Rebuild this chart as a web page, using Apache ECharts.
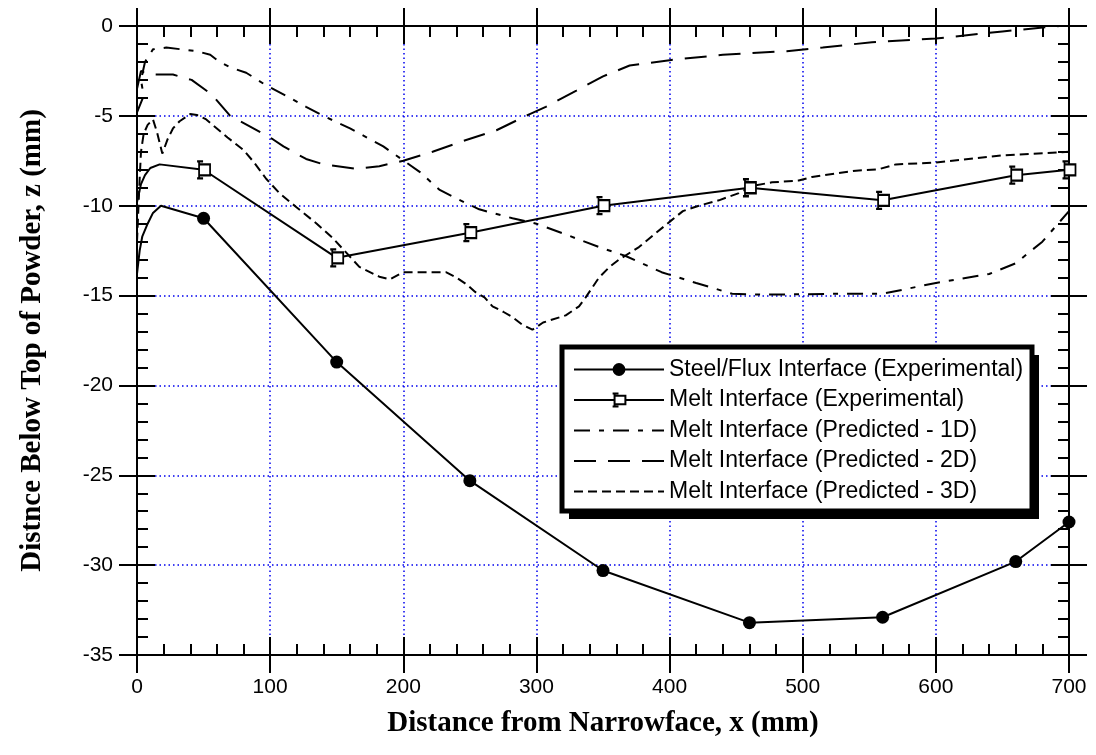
<!DOCTYPE html>
<html>
<head>
<meta charset="utf-8">
<script src="https://cdn.jsdelivr.net/npm/echarts@6/dist/echarts.min.js"></script>
<style>
  html, body { margin: 0; background: #fff; }
  #chart { width: 1096px; height: 755px; }
</style>
</head>
<body>
<div id="chart"></div>
<script>
// x = distance from narrowface (mm), z = depth below top of powder (mm)
const steelStart = [[0, -13.8], [2, -12.5], [4, -11.7], [8, -11], [12, -10.4], [18, -10]];
const steelPoints = [[50, -10.7], [150, -18.7], [250, -25.3], [350, -30.3], [460, -33.2], [560, -32.9], [660, -29.8], [700, -27.6]];

const meltStart = [[0, -9.8], [3, -8.8], [6, -8.3], [10, -7.9], [17, -7.7]];
const meltPoints = [[50, -8.0], [150, -12.9], [250, -11.5], [350, -10.0], [460, -9.0], [560, -9.7], [660, -8.3], [700, -8.0]];

const pred1D = [[0, -4.8], [5, -3.9], [3, -3], [6, -2.0], [12, -1.3], [22, -1.2], [45, -1.4], [55, -1.6], [62, -2.0],
  [70, -2.3], [82, -2.6], [97, -3.3], [115, -4.0], [127, -4.5], [140, -5.0], [160, -5.7], [185, -6.7], [212, -8.1],
  [227, -9.1], [240, -9.6], [257, -10.2], [282, -10.7], [300, -11.0], [322, -11.6], [347, -12.3], [367, -12.8],
  [394, -13.7], [420, -14.3], [447, -14.9], [470, -14.95], [527, -14.9], [560, -14.9], [600, -14.3], [640, -13.8],
  [660, -13.2], [680, -12.0], [700, -10.3]];

const pred2D = [[0, -3.5], [3, -2.5], [8, -2.7], [13, -2.7], [27, -2.7], [41, -3.0], [56, -3.8], [70, -5.0], [85, -5.6],
  [102, -6.3], [110, -6.7], [127, -7.4], [140, -7.7], [165, -7.95], [182, -7.8], [200, -7.5], [222, -7.0],
  [245, -6.4], [270, -5.8], [295, -4.9], [307, -4.5], [330, -3.6], [350, -2.8], [370, -2.2], [400, -1.9],
  [440, -1.6], [488, -1.4], [515, -1.2], [552, -0.9], [600, -0.7], [650, -0.3], [700, 0.05]];

const pred3D = [[0, -12], [2, -8.5], [3, -7], [5, -6.0], [8, -5.5], [12, -5.2], [15, -5.9], [19, -7.1], [23, -6.3],
  [27, -5.7], [32, -5.3], [40, -4.9], [45, -4.95], [52, -5.2], [60, -5.7], [68, -6.2], [80, -6.9], [88, -7.6],
  [97, -8.5], [107, -9.3], [120, -10.1], [135, -11.0], [147, -11.8], [167, -13.4], [182, -13.95], [190, -14.1],
  [200, -13.7], [232, -13.7], [240, -14.0], [248, -14.4], [254, -14.8], [261, -15.1], [267, -15.6], [275, -15.9],
  [282, -16.2], [289, -16.6], [297, -16.9], [305, -16.5], [322, -16.1], [332, -15.6], [337, -15.1], [347, -14.0],
  [355, -13.4], [362, -13.0], [377, -12.3], [390, -11.5], [400, -10.9], [410, -10.3], [422, -10.0], [437, -9.7],
  [452, -9.3], [462, -8.9], [477, -8.7], [497, -8.6], [507, -8.4], [525, -8.2], [540, -8.05], [557, -7.97],
  [570, -7.7], [600, -7.6], [650, -7.2], [700, -7.0]];

const seriesNames = [
  "Steel/Flux Interface (Experimental)",
  "Melt Interface (Experimental)",
  "Melt Interface (Predicted - 1D)",
  "Melt Interface (Predicted - 2D)",
  "Melt Interface (Predicted - 3D)",
];

// square marker with small error bar on its left side
const errSquare = "path://M0,0 L6,0 M2,0 L2,17 M0,17 L6,17 M2,3 L13,3 L13,14 L2,14 Z";

const black = "#000";
const sans = "Liberation Sans";
const serif = "Liberation Serif";

function noMarker(list) {
  return list.map(function (p) {
    return { value: p, symbol: "none" };
  });
}

function frameAxis(pos, inside, range) {
  return {
    type: "value",
    position: pos,
    min: range[0],
    max: range[1],
    interval: range[2],
    axisLine: { onZero: false, lineStyle: { color: black, width: 2 } },
    axisTick: { inside: inside, length: 18, lineStyle: { color: black, width: 2 } },
    minorTick: { show: inside, splitNumber: 5, length: 11, lineStyle: { color: black, width: 2 } },
    axisLabel: { show: false },
    splitLine: { show: false },
  };
}

const xRange = [0, 700, 100];
const yRange = [-35, 0, 5];
const gridDots = { color: "#0000ee", width: 1.5, type: [1.5, 3] };

const xMain = frameAxis("bottom", false, xRange);
xMain.axisLabel = { show: true, fontSize: 21, fontFamily: sans, color: black, margin: 22 };
xMain.splitLine = { show: true, lineStyle: gridDots };
xMain.name = "Distance from Narrowface, x (mm)";
xMain.nameLocation = "middle";
xMain.nameGap = 54;
xMain.nameTextStyle = { fontSize: 29, fontFamily: serif, fontWeight: "bold", color: black };

const yMain = frameAxis("left", false, yRange);
yMain.axisLabel = { show: true, fontSize: 21, fontFamily: sans, color: black, margin: 24 };
yMain.splitLine = { show: true, lineStyle: gridDots };
yMain.name = "Distnce Below Top of Powder, z (mm)";
yMain.nameLocation = "middle";
yMain.nameGap = 90;
yMain.nameTextStyle = { fontSize: 29, fontFamily: serif, fontWeight: "bold", color: black };

// legend frame: white box with thick border and a hard drop shadow
const boxLeft = 562, boxTop = 347, boxWidth = 470, boxHeight = 164;

const chart = echarts.init(document.getElementById("chart"));

const option = {
  animation: false,
  backgroundColor: "#fff",
  grid: { left: 137, right: 27, top: 26, bottom: 100, outerBoundsMode: "none" },
  xAxis: [xMain, frameAxis("bottom", true, xRange), frameAxis("top", false, xRange), frameAxis("top", true, xRange)],
  yAxis: [yMain, frameAxis("left", true, yRange), frameAxis("right", false, yRange), frameAxis("right", true, yRange)],
  graphic: [
    {
      type: "rect",
      z: 100,
      shape: { x: boxLeft + 7, y: boxTop + 8, width: boxWidth, height: boxHeight },
      style: { fill: black },
    },
    {
      type: "rect",
      z: 101,
      shape: { x: boxLeft, y: boxTop, width: boxWidth, height: boxHeight },
      style: { fill: "#fff", stroke: black, lineWidth: 5 },
    },
  ],
  legend: {
    z: 110,
    orient: "vertical",
    left: 573,
    top: 358,
    padding: 0,
    itemWidth: 90,
    itemHeight: 16,
    itemGap: 7.5,
    textStyle: { fontSize: 23, lineHeight: 23, fontFamily: sans, color: black },
    data: [
      { name: seriesNames[0] },
      { name: seriesNames[1] },
      { name: seriesNames[2], itemStyle: { opacity: 0 } },
      { name: seriesNames[3], itemStyle: { opacity: 0 } },
      { name: seriesNames[4], itemStyle: { opacity: 0 } },
    ],
  },
  series: [
    {
      name: seriesNames[0],
      type: "line",
      data: noMarker(steelStart).concat(steelPoints),
      symbol: "circle",
      symbolSize: 13,
      itemStyle: { color: black },
      lineStyle: { color: black, width: 2 },
      z: 5,
    },
    {
      name: seriesNames[1],
      type: "line",
      data: noMarker(meltStart).concat(meltPoints),
      symbol: errSquare,
      symbolSize: [13, 17],
      itemStyle: { color: "#fff", borderColor: black, borderWidth: 2 },
      lineStyle: { color: black, width: 2 },
      z: 5,
    },
    {
      name: seriesNames[2],
      type: "line",
      data: pred1D,
      showSymbol: false,
      symbol: "none",
      itemStyle: { color: black },
      lineStyle: { color: black, width: 2, type: [16, 9, 5, 9] },
    },
    {
      name: seriesNames[3],
      type: "line",
      data: pred2D,
      showSymbol: false,
      symbol: "none",
      itemStyle: { color: black },
      lineStyle: { color: black, width: 2, type: [22, 12] },
    },
    {
      name: seriesNames[4],
      type: "line",
      data: pred3D,
      showSymbol: false,
      symbol: "none",
      itemStyle: { color: black },
      lineStyle: { color: black, width: 2, type: [9, 5] },
    },
  ],
};

chart.setOption(option);
</script>
</body>
</html>
